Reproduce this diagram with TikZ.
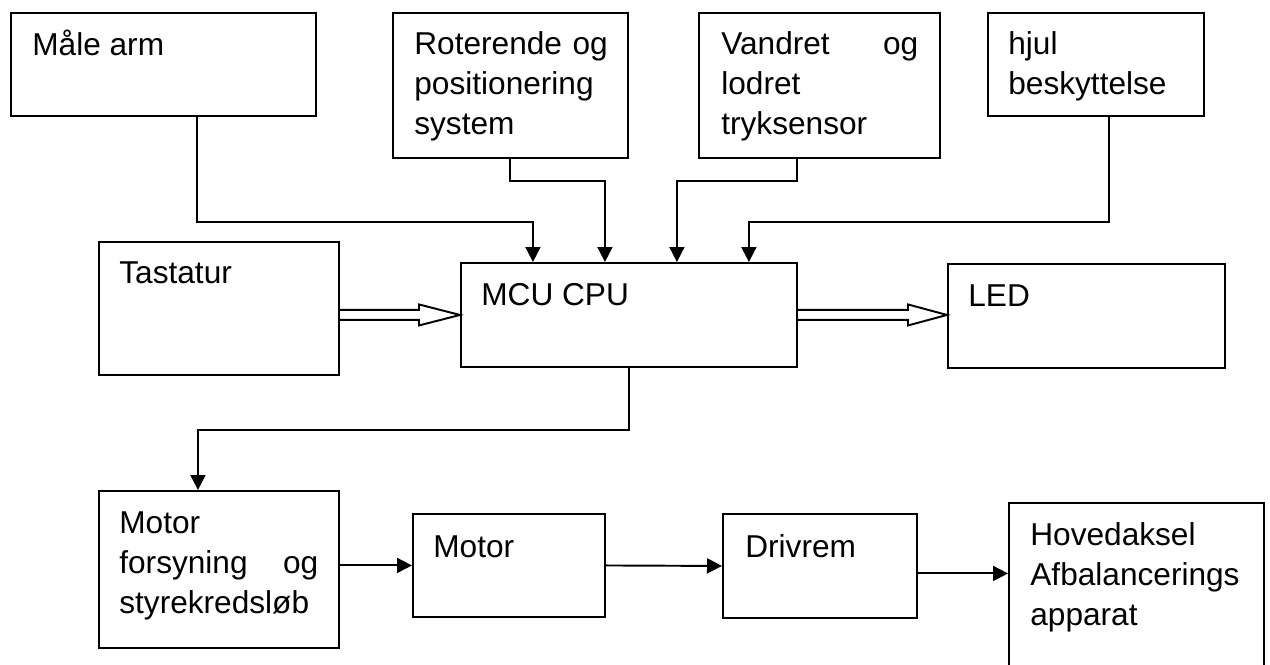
\documentclass[tikz,border=0pt]{standalone}
\usepackage{fontspec}
\setmainfont{Liberation Sans}
\usetikzlibrary{arrows.meta,calc}

\tikzset{
  boks/.style={draw,line width=1.1pt,inner sep=0pt,anchor=north west},
  tekst/.style={inner sep=0pt,anchor=north west,align=left,font=\fontsize{18pt}{22.8pt}\selectfont,
    execute at begin node={\rule{0pt}{16pt}}},
  pil/.style={line width=1.1pt,-{Triangle[length=3mm,width=3mm]}},
  hulpil/.style={line width=1.1pt,line join=miter}
}

\begin{document}
\begin{tikzpicture}[x=0.02cm,y=-0.02cm]
\useasboundingbox (0,0) rectangle (1270,665);
% kasser
\node[boks,minimum width=6.10cm,minimum height=2.06cm] (maalearm) at (10,12) {};
\node[boks,minimum width=4.70cm,minimum height=2.90cm] (roterende) at (392,12) {};
\node[boks,minimum width=4.82cm,minimum height=2.90cm] (vandret) at (698,12) {};
\node[boks,minimum width=4.32cm,minimum height=2.06cm] (hjul) at (987,12) {};
\node[boks,minimum width=4.80cm,minimum height=2.66cm] (tastatur) at (98,241) {};
\node[boks,minimum width=6.72cm,minimum height=2.08cm] (mcu) at (460,262) {};
\node[boks,minimum width=5.54cm,minimum height=2.08cm] (led) at (947,263) {};
\node[boks,minimum width=4.80cm,minimum height=3.14cm] (motorfors) at (98,490) {};
\node[boks,minimum width=3.84cm,minimum height=2.06cm] (motor) at (412,513) {};
\node[boks,minimum width=3.88cm,minimum height=2.08cm] (drivrem) at (722,513) {};
\node[boks,minimum width=5.10cm,minimum height=3.60cm] (hoved) at (1008,502) {};
% tekster
\node[tekst] (maalearm-t) at ([xshift=0.44cm,yshift=-0.30cm]maalearm.north west) {Måle arm};
\node[tekst,text width=4.2cm] (roterende-t) at ([xshift=0.44cm,yshift=-0.28cm]roterende.north west) {Roterende og\\positionering\\system};
\node[tekst,text width=3.94cm] (vandret-t) at ([xshift=0.46cm,yshift=-0.28cm]vandret.north west) {\hbox to 3.94cm{Vandret\hfill og}\\lodret\\tryksensor};
\node[tekst,text width=3.8cm] (hjul-t) at ([xshift=0.42cm,yshift=-0.28cm]hjul.north west) {hjul\\beskyttelse};
\node[tekst] (tastatur-t) at ([xshift=0.42cm,yshift=-0.28cm]tastatur.north west) {Tastatur};
\node[tekst] (mcu-t) at ([xshift=0.42cm,yshift=-0.30cm]mcu.north west) {MCU CPU};
\node[tekst] (led-t) at ([xshift=0.42cm,yshift=-0.30cm]led.north west) {LED};
\node[tekst,text width=3.98cm] (motorfors-t) at ([xshift=0.42cm,yshift=-0.30cm]motorfors.north west) {Motor\\\leavevmode\hbox to 3.98cm{forsyning\hfill og}\\styrekredsløb};
\node[tekst] (motor-t) at ([xshift=0.42cm,yshift=-0.32cm]motor.north west) {Motor};
\node[tekst] (drivrem-t) at ([xshift=0.46cm,yshift=-0.32cm]drivrem.north west) {Drivrem};
\node[tekst,text width=4.5cm] (hoved-t) at ([xshift=0.44cm,yshift=-0.30cm]hoved.north west) {Hovedaksel\\Afbalancerings\\apparat};
% forbindelser til MCU
\draw[pil] ([xshift=0.67cm]maalearm.south) -- ++(0,105) -| ([xshift=-1.92cm]mcu.north);
\draw[pil] (roterende.south) -- ++(0,22) -| ([xshift=-0.48cm]mcu.north);
\draw[pil] ([xshift=-0.45cm]vandret.south) -- ++(0,22) -| ([xshift=0.96cm]mcu.north);
\draw[pil] ([xshift=0.26cm]hjul.south) -- ++(0,105) -| ([xshift=2.4cm]mcu.north);
% hule pile
\draw[hulpil] ($(tastatur.east |- mcu.west)+(0,-5)$) -- ($(mcu.west)+(-41,-5)$) -- ++(0,-5.5) -- (mcu.west) -- ++(-41,10.5) -- ++(0,-5.5) -- ($(tastatur.east |- mcu.west)+(0,5)$);
\draw[hulpil] ($(mcu.east)+(0,-5)$) -- ($(mcu.east -| led.west)+(-39,-5)$) -- ++(0,-5.5) -- (mcu.east -| led.west) -- ++(-39,10.5) -- ++(0,-5.5) -- ($(mcu.east)+(0,5)$);
% motorkaede
\draw[pil] (mcu.south) -- ++(0,62) -| ([xshift=-0.42cm]motorfors.north);
\draw[pil] (motor.west -| motorfors.east) -- (motor.west);
\draw[pil] (motor.east) -- (drivrem.west);
\draw[pil] ([yshift=-0.15cm]drivrem.east) -- ([yshift=-0.15cm]drivrem.east -| hoved.west);
\end{tikzpicture}
\end{document}
